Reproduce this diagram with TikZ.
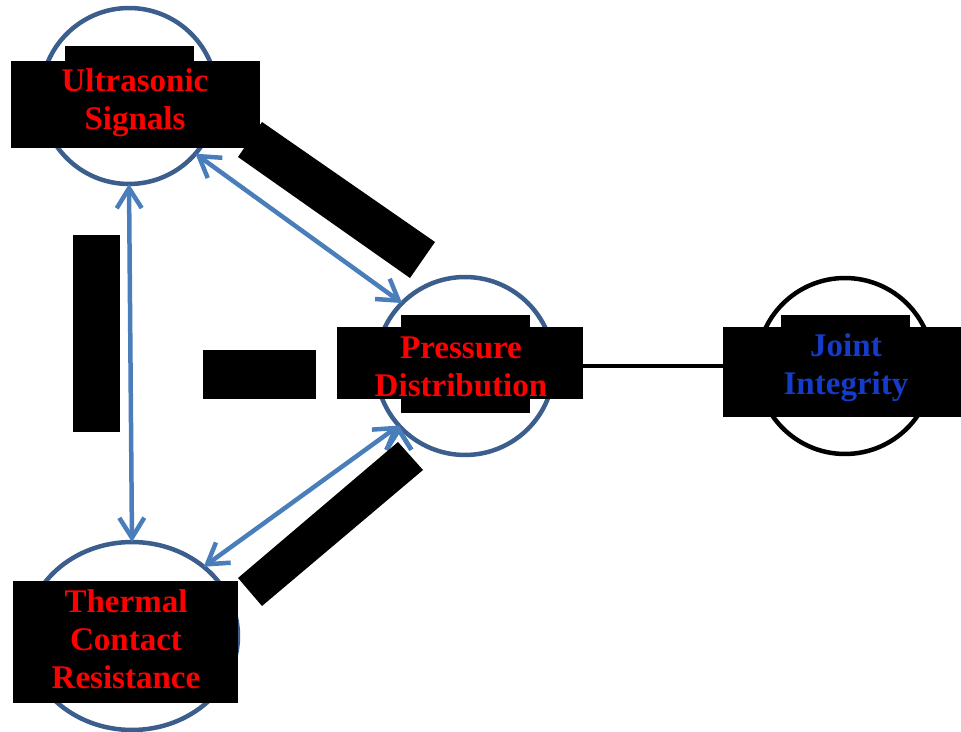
\documentclass[tikz,border=0pt]{standalone}
\usepackage{fontspec}
\setmainfont{Liberation Serif}
\usetikzlibrary{arrows.meta,shapes.geometric}
\definecolor{myRingBlue}{RGB}{59,94,140}
\definecolor{myArrowBlue}{RGB}{74,126,187}
\definecolor{myTextBlue}{RGB}{20,60,200}
\tikzset{
	ring/.style={draw=myRingBlue, line width=0.09cm, circle, inner sep=0pt, outer sep=0pt},
	lbl/.style={align=center, font=\fontsize{18.8}{21.5}\selectfont\bfseries, text=red, inner sep=0pt},
	twoway/.style={<->, >={Straight Barb[length=0.4cm,width=0.5cm]}, draw=myArrowBlue, line width=0.09cm}
}

\begin{document}
\begin{tikzpicture}[x=0.02cm, y=-0.02cm]
			\useasboundingbox (0,0) rectangle (961,732);
			\draw (129,96) node[ring, minimum size=3.52cm] (US) {};
			\draw (465,366) node[ring, minimum size=3.56cm] (PD) {};
			\draw (845,366) node[ring, draw=black, minimum size=3.52cm] (JI) {};
			\draw (132,636) node[ring, ellipse, minimum width=4.24cm, minimum height=3.76cm] (TC) {};
	
			\path[twoway]
			(US.-41) edge (PD.135)
			(US.south) edge (TC.north)
			(PD.222) edge (TC.44)
			;
			\path (PD) edge[black, line width=0.07cm] (JI);
	
			% covered parts
			\fill (11,61) rectangle (260,148);
			\fill (65,46) rectangle (194,61);
			\fill (337,327) rectangle (583,399);
			\fill (401,315) rectangle (530,413);
			\fill (723,327) rectangle (961,417);
			\fill (781,315) rectangle (910,327);
			\fill (13,581) rectangle (238,703);
			\fill (73,235) rectangle (120,432);
			\fill (203,350) rectangle (316,399);
			\fill (238,157) -- (262,122) -- (435,242) -- (410,278) -- cycle;
			\fill (238,578) -- (398,442) -- (423,470) -- (262,606) -- cycle;
	
			\draw (135,103) node[lbl] (USt) {Ultrasonic\\Signals};
			\draw (461,367) node[lbl] (PDt) {Pressure\\Distribution};
			\draw (846,368) node[lbl, text=myTextBlue] (JIt) {Joint\\Integrity};
			\draw (126,639) node[lbl] (TCt) {Thermal\\Contact\\Resistance};
		\end{tikzpicture}
\end{document}
